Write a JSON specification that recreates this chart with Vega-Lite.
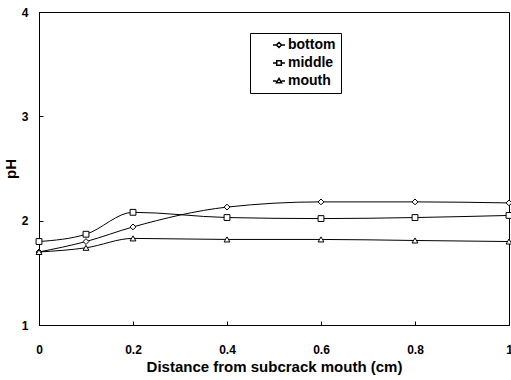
{
  "$schema": "https://vega.github.io/schema/vega-lite/v6.json",
  "autosize": "none",
  "width": 470,
  "height": 313,
  "padding": {"left": 39, "top": 12, "right": 2, "bottom": 55},
  "background": "white",
  "config": {
    "view": {"stroke": "black", "strokeWidth": 1},
    "font": "Liberation Sans",
    "axis": {
      "grid": false,
      "domainColor": "black",
      "tickColor": "black",
      "labelColor": "black",
      "titleColor": "black",
      "labelFont": "Liberation Sans",
      "titleFont": "Liberation Sans",
      "labelFontWeight": "bold",
      "titleFontWeight": "bold",
      "labelFontSize": 12,
      "titleFontSize": 15,
      "tickSize": -4
    }
  },
  "data": {
    "values": [
      {"x": 0, "pH": 1.70, "series": "bottom"},
      {"x": 0.1, "pH": 1.80, "series": "bottom"},
      {"x": 0.2, "pH": 1.94, "series": "bottom"},
      {"x": 0.4, "pH": 2.13, "series": "bottom"},
      {"x": 0.6, "pH": 2.18, "series": "bottom"},
      {"x": 0.8, "pH": 2.18, "series": "bottom"},
      {"x": 1.0, "pH": 2.17, "series": "bottom"},
      {"x": 0, "pH": 1.80, "series": "middle"},
      {"x": 0.1, "pH": 1.87, "series": "middle"},
      {"x": 0.2, "pH": 2.08, "series": "middle"},
      {"x": 0.4, "pH": 2.03, "series": "middle"},
      {"x": 0.6, "pH": 2.02, "series": "middle"},
      {"x": 0.8, "pH": 2.03, "series": "middle"},
      {"x": 1.0, "pH": 2.05, "series": "middle"},
      {"x": 0, "pH": 1.70, "series": "mouth"},
      {"x": 0.1, "pH": 1.74, "series": "mouth"},
      {"x": 0.2, "pH": 1.83, "series": "mouth"},
      {"x": 0.4, "pH": 1.82, "series": "mouth"},
      {"x": 0.6, "pH": 1.82, "series": "mouth"},
      {"x": 0.8, "pH": 1.81, "series": "mouth"},
      {"x": 1.0, "pH": 1.80, "series": "mouth"}
    ]
  },
  "encoding": {
    "x": {
      "field": "x", "type": "quantitative",
      "scale": {"domain": [0, 1], "nice": false},
      "axis": {"values": [0, 0.2, 0.4, 0.6, 0.8, 1], "labelExpr": "datum.value == 0 ? '0' : datum.value == 1 ? '1' : format(datum.value, '.1f')", "labelPadding": 23, "title": "Distance from subcrack mouth (cm)", "titlePadding": 4, "labelFlush": false}
    },
    "y": {
      "field": "pH", "type": "quantitative",
      "scale": {"domain": [1, 4], "nice": false, "zero": false},
      "axis": {"values": [1, 2, 3, 4], "labelPadding": 15, "title": "pH", "titlePadding": 3}
    }
  },
  "layer": [
    {
      "mark": {"type": "line", "interpolate": "monotone", "color": "black", "strokeWidth": 1},
      "encoding": {"detail": {"field": "series"}}
    },
    {
      "mark": {"type": "point", "filled": true, "fill": "white", "stroke": "black", "strokeWidth": 1, "size": 34, "opacity": 1},
      "encoding": {
        "shape": {
          "field": "series", "type": "nominal",
          "scale": {"domain": ["bottom", "middle", "mouth"], "range": ["diamond", "square", "triangle-up"]},
          "legend": null
        }
      }
    },
    {
      "transform": [{"filter": "datum.x > 5"}],
      "mark": {"type": "point", "filled": false, "color": "black", "strokeWidth": 1, "opacity": 1},
      "encoding": {
        "shape": {
          "field": "series", "type": "nominal",
          "scale": {"domain": ["bottom", "middle", "mouth"], "range": [
            "M-1,0L-0.42,0M0.42,0L1,0M0,-0.42L0.42,0L0,0.42L-0.42,0Z",
            "M-1,0L-0.38,0M0.38,0L1,0M-0.38,-0.38L0.38,-0.38L0.38,0.38L-0.38,0.38Z",
            "M-1,0L-0.42,0M0.42,0L1,0M0,-0.42L0.42,0.3L-0.42,0.3Z"
          ]},
          "legend": {
            "title": null,
            "orient": "none",
            "legendX": 211,
            "legendY": 21,
            "symbolSize": 144,
            "symbolOffset": 17,
            "labelFont": "Liberation Sans",
            "labelFontWeight": "bold",
            "labelFontSize": 14,
            "labelColor": "black",
            "labelOffset": 2,
            "labelExpr": "datum.label + '\u00a0\u00a0\u00a0\u00a0'",
            "rowPadding": 4,
            "strokeColor": "black",
            "fillColor": "white",
            "padding": 5,
            "encode": {"symbols": {"update": {"stroke": {"value": "black"}, "fill": {"value": "white"}, "strokeWidth": {"value": 1}, "opacity": {"value": 1}}}}
          }
        }
      }
    }
  ],
  "resolve": {"scale": {"shape": "independent"}}
}
